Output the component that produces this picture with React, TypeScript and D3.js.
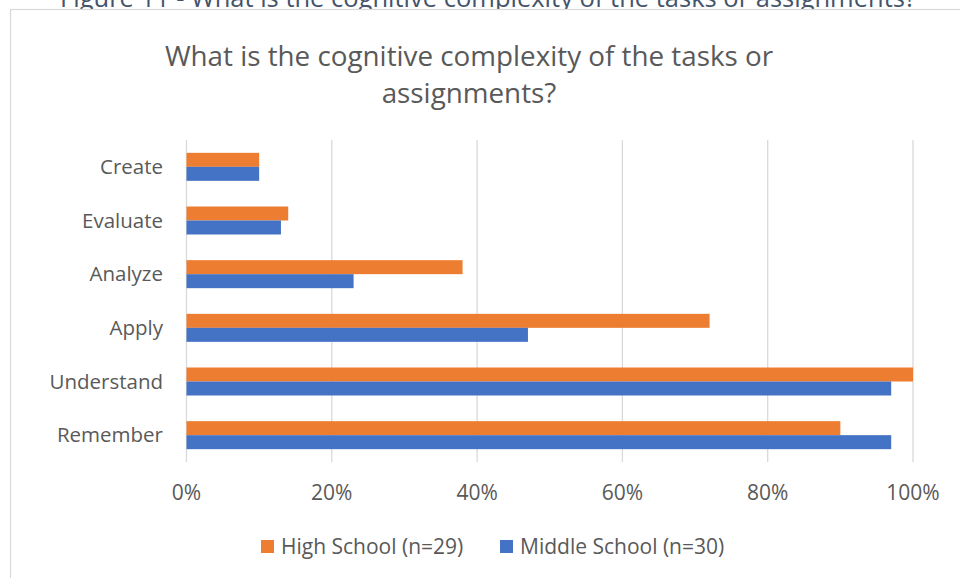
import React from "react";
import * as d3 from "d3";

const categories = ["Create", "Evaluate", "Analyze", "Apply", "Understand", "Remember"];
const highSchool = [10, 14, 38, 72, 100, 90];
const middleSchool = [10, 13, 23, 47, 97, 97];
const tickValues = [0, 20, 40, 60, 80, 100];
const seriesNames = ["High School (n=29)", "Middle School (n=30)"];
const seriesColors = ["#ED7D31", "#4472C4"];

const W = 960;
const H = 578;
const FONT = "'Open Sans', Lato, sans-serif";

export default function App() {
  const x = d3.scaleLinear().domain([0, 100]).range([186.5, 913]);
  const y = d3.scaleBand<string>().domain(categories).range([140, 462]);
  const barH = 14;

  return (
    <div style={{ position: "absolute", left: 0, top: 0 }}>
      <svg width={W} height={H} style={{ display: "block", background: "#fff" }}>
        {/* figure caption running above the frame */}
        <text x={488} y={7} textAnchor="middle" fontFamily={FONT} fontSize={25.5} fill="#44546A">
          Figure 11 - What is the cognitive complexity of the tasks or assignments?
        </text>
        {/* chart frame */}
        <rect x={10.5} y={9.5} width={1000} height={700} fill="#fff" stroke="#D9D9D9" strokeWidth={1.2} />

        {/* title */}
        <text textAnchor="middle" fontFamily={FONT} fontSize={27.8} fill="#595959">
          <tspan x={469} y={66}>What is the cognitive complexity of the tasks or</tspan>
          <tspan x={469} y={103}>assignments?</tspan>
        </text>

        {/* gridlines */}
        {tickValues.map((t) => (
          <line key={t} x1={x(t)} x2={x(t)} y1={140} y2={462} stroke="#D9D9D9" strokeWidth={1.3} />
        ))}

        {/* bars */}
        {categories.map((c, i) => {
          const cy = (y(c) as number) + y.bandwidth() / 2;
          return (
            <g key={c}>
              <rect x={x(0)} y={cy - barH} width={x(highSchool[i]) - x(0)} height={barH} fill={seriesColors[0]} />
              <rect x={x(0)} y={cy} width={x(middleSchool[i]) - x(0)} height={barH} fill={seriesColors[1]} />
            </g>
          );
        })}

        {/* category labels */}
        {categories.map((c) => (
          <text key={c} x={163} y={(y(c) as number) + y.bandwidth() / 2} dy="0.35em" textAnchor="end"
            fontFamily={FONT} fontSize={20.5} fill="#595959">
            {c}
          </text>
        ))}

        {/* tick labels */}
        {tickValues.map((t) => (
          <text key={t} x={x(t)} y={493} dy="0.35em" textAnchor="middle" fontFamily={FONT} fontSize={21} fill="#595959">
            {t}%
          </text>
        ))}

        {/* legend */}
        {seriesNames.map((s, i) => {
          const lx = i === 0 ? 261 : 500;
          return (
            <g key={s}>
              <rect x={lx} y={540} width={13} height={13} fill={seriesColors[i]} />
              <text x={lx + 20} y={547} dy="0.35em" fontFamily={FONT} fontSize={21} fill="#595959">
                {s}
              </text>
            </g>
          );
        })}
      </svg>
    </div>
  );
}
